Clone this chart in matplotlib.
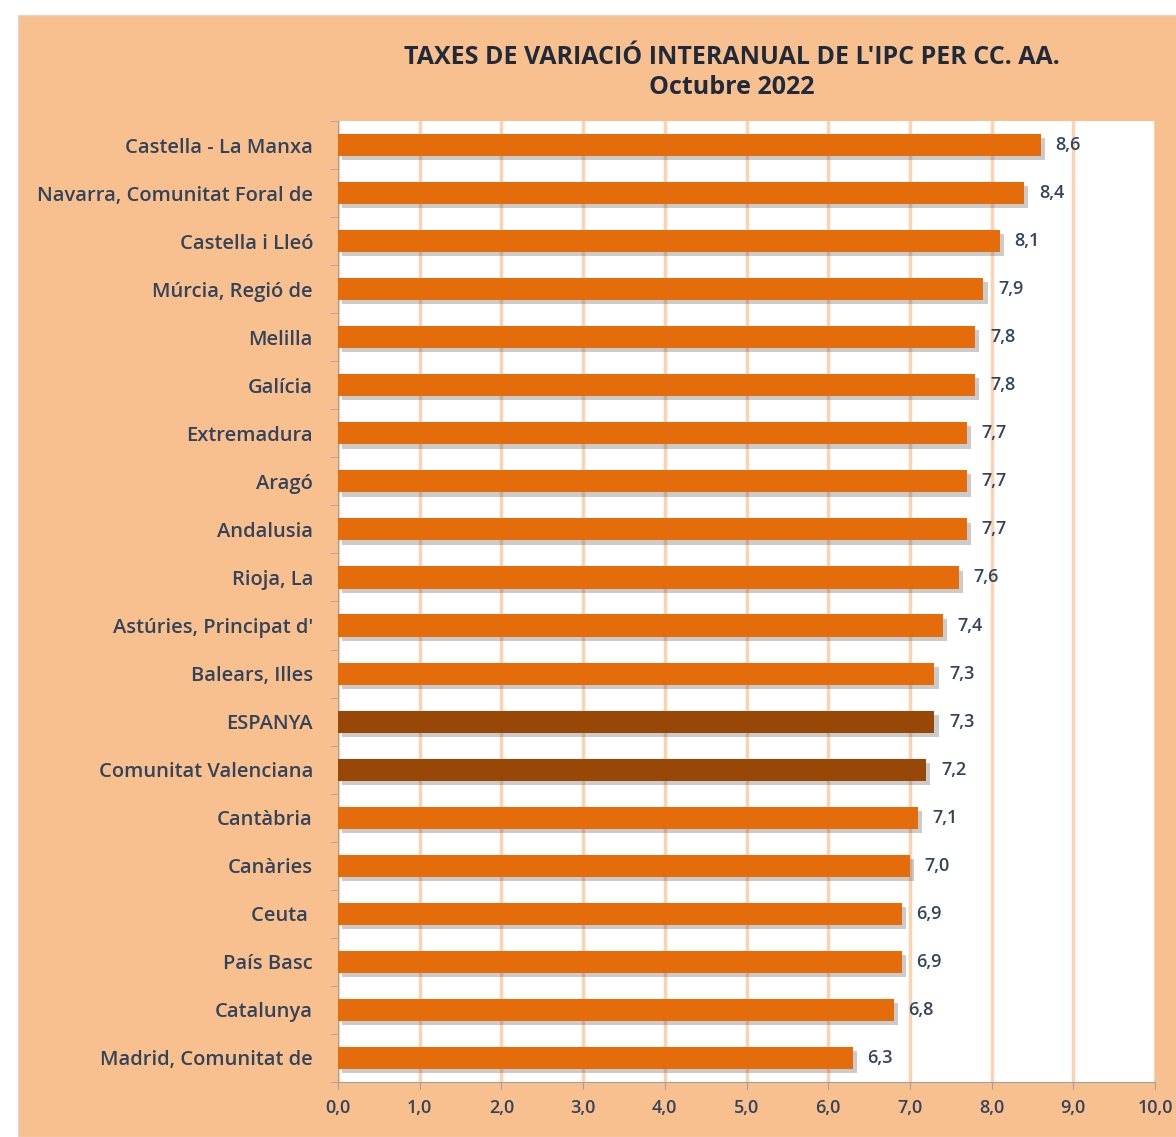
import matplotlib.pyplot as plt
import matplotlib.patheffects as pe
from matplotlib.patches import Rectangle

plt.rcParams['font.family'] = ['Open Sans', 'DejaVu Sans']

# Data (top to bottom as in the chart)
regions = ['Castella - La Manxa', 'Navarra, Comunitat Foral de', 'Castella i Lleó',
           'Múrcia, Regió de', 'Melilla', 'Galícia', 'Extremadura', 'Aragó',
           'Andalusia', 'Rioja, La', "Astúries, Principat d'", 'Balears, Illes',
           'ESPANYA', 'Comunitat Valenciana', 'Cantàbria', 'Canàries', 'Ceuta ',
           'País Basc', 'Catalunya', 'Madrid, Comunitat de']
values = [8.6, 8.4, 8.1, 7.9, 7.8, 7.8, 7.7, 7.7, 7.7, 7.6, 7.4, 7.3, 7.3, 7.2,
          7.1, 7.0, 6.9, 6.9, 6.8, 6.3]
highlight = ['ESPANYA', 'Comunitat Valenciana']

orange = '#E46C0A'
brown = '#974806'
peach = '#F9C08F'
text_col = '#33435A'

fig = plt.figure(figsize=(11.76, 11.37), dpi=100)
fig.patch.set_facecolor('white')
# peach chart background with thin white margin top/left
fig.patches.append(Rectangle((18 / 1176, 0), 1, 1 - 15 / 1137, transform=fig.transFigure,
                             facecolor=peach, edgecolor='#D9D9D9', linewidth=1, zorder=-10))

ax = fig.add_axes([338 / 1176, 1 - 1082 / 1137, (1155 - 338) / 1176, (1082 - 121) / 1137])
ax.set_facecolor('white')

ypos = list(range(len(regions)))
colors = [brown if r in highlight else orange for r in regions]
bars = ax.barh(ypos, values, height=0.46, color=colors, zorder=3)
for b in bars:
    b.set_path_effects([pe.SimplePatchShadow(offset=(3, -3), shadow_rgbFace='#555555', alpha=0.3),
                        pe.Normal()])

for y, v in zip(ypos, values):
    ax.text(v + 0.18, y, f'{v:.1f}'.replace('.', ','), va='center', ha='left',
            fontsize=13, fontweight=600, color=text_col, zorder=4)

ax.set_xlim(0, 10)
ax.set_ylim(len(regions) - 0.5, -0.5)
ax.set_xticks(range(11))
ax.set_xticklabels([f'{i},0' for i in range(11)], fontsize=13, fontweight=600, color=text_col)
ax.set_yticks(ypos)
ax.set_yticklabels(regions, fontsize=14.5, fontweight=600, color=text_col)
ax.set_yticks([y - 0.5 for y in range(len(regions) + 1)], minor=True)
ax.tick_params(axis='y', which='major', length=0, pad=18)
ax.tick_params(axis='y', which='minor', length=6, color='#A0A0A0', direction='out')
ax.tick_params(axis='x', length=5, color='#A0A0A0', direction='out', pad=7)

ax.grid(axis='x', color='#FAD3B4', linewidth=2.5, zorder=1)
ax.set_axisbelow(True)
for s in ['top', 'right']:
    ax.spines[s].set_visible(False)
ax.spines['left'].set_color('#A0A0A0')
ax.spines['bottom'].set_color('#A0A0A0')

fig.text(732 / 1176, 1 - 57 / 1137, "TAXES DE VARIACIÓ INTERANUAL DE L'IPC PER CC. AA.",
         ha='center', va='center', fontsize=18, fontweight='bold', color='#1F2B3A')
fig.text(732 / 1176, 1 - 87 / 1137, 'Octubre 2022',
         ha='center', va='center', fontsize=18, fontweight='bold', color='#1F2B3A')

plt.savefig('out.png', dpi=100)
